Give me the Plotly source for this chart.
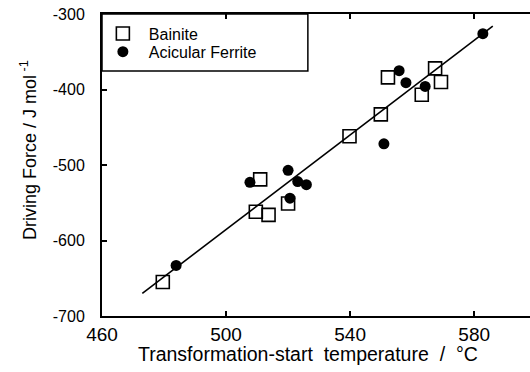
import plotly.graph_objects as go

# Transformation-start temperature (°C) and driving force (J/mol)
bainite_temp = [479.6, 509.6, 511.0, 513.7, 520.0, 539.8, 549.9, 552.2, 563.1, 567.4, 569.3]
bainite_force = [-655, -562, -519, -566, -551, -462, -433, -384, -407, -372, -390]

ferrite_temp = [483.9, 507.7, 520.0, 520.6, 523.1, 525.9, 550.9, 555.8, 558.0, 564.2, 582.8]
ferrite_force = [-633, -523, -507, -544, -522, -526, -472, -375, -391, -396, -326]

# End points of the fitted straight line
fit_temp = [473, 586]
fit_force = [-670, -316]

x_ticks = [460, 500, 540, 580]
y_ticks = [-700, -600, -500, -400, -300]
y_tick_text = ["-700", "-600", "-500", "-400", "-300"]

FONT = "Liberation Sans, Arial, Helvetica, sans-serif"

fig = go.Figure()

fig.add_trace(go.Scatter(
    x=fit_temp, y=fit_force, mode="lines",
    line=dict(color="black", width=1.6),
    showlegend=False, hoverinfo="skip",
))

fig.add_trace(go.Scatter(
    x=bainite_temp, y=bainite_force, mode="markers", name="Bainite",
    marker=dict(symbol="square-open", size=13, color="black",
                line=dict(color="black", width=1.6)),
    legend="legend",
))

fig.add_trace(go.Scatter(
    x=ferrite_temp, y=ferrite_force, mode="markers", name="Acicular Ferrite",
    marker=dict(symbol="circle", size=11, color="black"),
    legend="legend2",
))

# Legend frame in the upper-left corner of the plot
fig.add_shape(type="rect", xref="paper", yref="paper",
              x0=0, x1=0.481, y0=0.811, y1=1,
              line=dict(color="black", width=1.5), fillcolor="white", layer="below")

legend_common = dict(
    xanchor="left", yanchor="middle",
    bgcolor="rgba(0,0,0,0)", borderwidth=0,
    font=dict(family=FONT, size=16, color="black"),
    itemwidth=42,
)

# Axis titles, placed as free text
fig.add_annotation(
    text="Transformation-start  temperature  /  °C",
    xref="paper", yref="paper", x=(308 - 102) / 428, y=-0.126,
    xanchor="center", yanchor="middle", showarrow=False,
    font=dict(family=FONT, size=19.5, color="black"),
)
fig.add_annotation(
    text="Driving Force / J mol<sup> -1</sup>",
    xref="paper", yref="paper", x=(28 - 102) / 428, y=(316 - 150) / 302,
    xanchor="center", yanchor="middle", showarrow=False, textangle=-90,
    font=dict(family=FONT, size=18, color="black"),
)

fig.update_layout(
    width=530, height=372,
    margin=dict(l=102, r=0, t=14, b=56),
    paper_bgcolor="white", plot_bgcolor="white",
    font=dict(family=FONT, color="black"),
    legend=dict(x=-0.012, y=0.935, **legend_common),
    legend2=dict(x=-0.012, y=0.875, **legend_common),
    xaxis=dict(
        range=[460, 598], tickvals=x_ticks,
        ticks="inside", ticklen=5, tickwidth=1.5, tickcolor="black",
        showline=True, linecolor="black", linewidth=2, mirror="ticks",
        showgrid=False, zeroline=False,
        tickfont=dict(family=FONT, size=19),
    ),
    yaxis=dict(
        range=[-700, -300], tickvals=y_ticks, ticktext=y_tick_text,
        ticks="inside", ticklen=5, tickwidth=1.5, tickcolor="black",
        showline=True, linecolor="black", linewidth=2, mirror=False,
        showgrid=False, zeroline=False,
        tickfont=dict(family=FONT, size=16),
        ticklabelstandoff=12,
    ),
)

fig.write_html("out.html")
